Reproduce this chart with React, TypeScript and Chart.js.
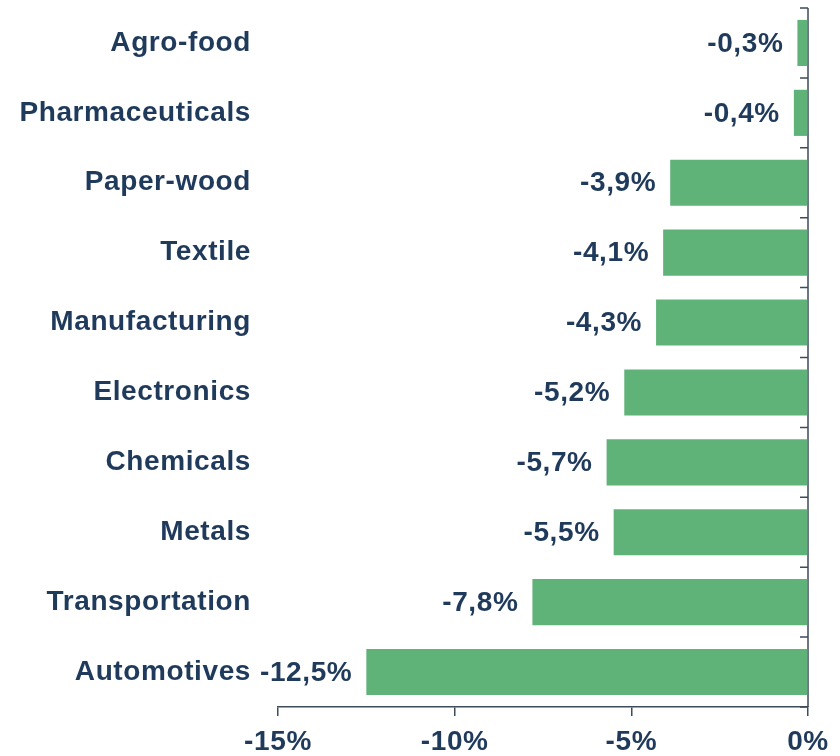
import React, { useEffect, useRef } from "react";
import { Chart, registerables } from "chart.js";

Chart.register(...registerables);

const categories = [
  "Agro-food",
  "Pharmaceuticals",
  "Paper-wood",
  "Textile",
  "Manufacturing",
  "Electronics",
  "Chemicals",
  "Metals",
  "Transportation",
  "Automotives",
];
const values = [-0.3, -0.4, -3.9, -4.1, -4.3, -5.2, -5.7, -5.5, -7.8, -12.5];
const xTicks = [-15, -10, -5, 0];

const TEXT = "#1f3a5b";
const AXIS = "#3e4b5b";
const BAR = "#60b378";
const FONT = "'Liberation Sans', Arial, sans-serif";
const SPACING = "0.6px";
const SIZE = 28;

const fmt = (v: number) => v.toFixed(1).replace(".", ",") + "%";

const customPlugin = {
  id: "customAxis",
  beforeDraw(chart: any) {
    chart.ctx.letterSpacing = SPACING;
  },
  beforeDatasetsDraw(chart: any) {
    const { ctx, chartArea, scales } = chart;
    const x = scales.x;
    const y = scales.y;
    const x0 = x.getPixelForValue(0);
    const band = y.getPixelForValue(1) - y.getPixelForValue(0);
    ctx.save();
    ctx.strokeStyle = AXIS;
    ctx.lineWidth = 1.5;
    ctx.beginPath();
    ctx.moveTo(x0, chartArea.top);
    ctx.lineTo(x0, chartArea.bottom);
    for (let i = 0; i <= categories.length; i++) {
      const yy = y.getPixelForValue(0) - band / 2 + i * band;
      ctx.moveTo(x0 - 8, yy);
      ctx.lineTo(x0, yy);
    }
    ctx.stroke();
    ctx.restore();
  },
  afterDatasetsDraw(chart: any) {
    const { ctx } = chart;
    const meta = chart.getDatasetMeta(0);
    ctx.save();
    ctx.letterSpacing = SPACING;
    ctx.fillStyle = TEXT;
    ctx.font = `bold ${SIZE}px ${FONT}`;
    ctx.textAlign = "right";
    ctx.textBaseline = "middle";
    meta.data.forEach((el: any, i: number) => {
      ctx.fillText(fmt(values[i]), el.x - 14, el.y + 1);
    });
    ctx.restore();
  },
};

export default function App() {
  const ref = useRef<HTMLCanvasElement | null>(null);
  useEffect(() => {
    if (!ref.current) return;
    const chart = new Chart(ref.current, {
      type: "bar",
      data: {
        labels: categories,
        datasets: [
          {
            data: values,
            backgroundColor: BAR,
            borderWidth: 0,
            barPercentage: 0.66,
            categoryPercentage: 1,
          },
        ],
      },
      options: {
        indexAxis: "y",
        animation: false,
        responsive: true,
        maintainAspectRatio: false,
        layout: { padding: { top: 8, right: 32, left: 0, bottom: 0 } },
        plugins: {
          legend: { display: false },
          tooltip: { enabled: false },
        },
        scales: {
          x: {
            min: -15,
            max: 0,
            afterBuildTicks: (scale: any) => {
              scale.ticks = xTicks.map((v) => ({ value: v }));
            },
            afterFit: (scale: any) => {
              scale.height = 49;
            },
            grid: {
              drawOnChartArea: false,
              drawTicks: true,
              tickLength: 9,
              color: AXIS,
              lineWidth: 1.5,
            },
            border: { display: true, color: AXIS, width: 1.5 },
            ticks: {
              color: TEXT,
              padding: 9,
              font: { family: FONT, size: SIZE, weight: "bold" },
              callback: (v: any) => `${v}%`,
              maxRotation: 0,
            },
          },
          y: {
            position: "left",
            afterFit: (scale: any) => {
              scale.width = 278;
              scale.paddingTop = 0;
              scale.paddingBottom = 0;
            },
            grid: { display: false, drawTicks: false },
            border: { display: false },
            ticks: {
              color: TEXT,
              padding: 27,
              font: { family: FONT, size: SIZE, weight: "bold" },
            },
          },
        },
      },
      plugins: [customPlugin],
    });
    return () => chart.destroy();
  }, []);
  return (
    <div style={{ position: "absolute", left: 0, top: 0, width: 840, height: 756 }}>
      <canvas ref={ref} />
    </div>
  );
}
